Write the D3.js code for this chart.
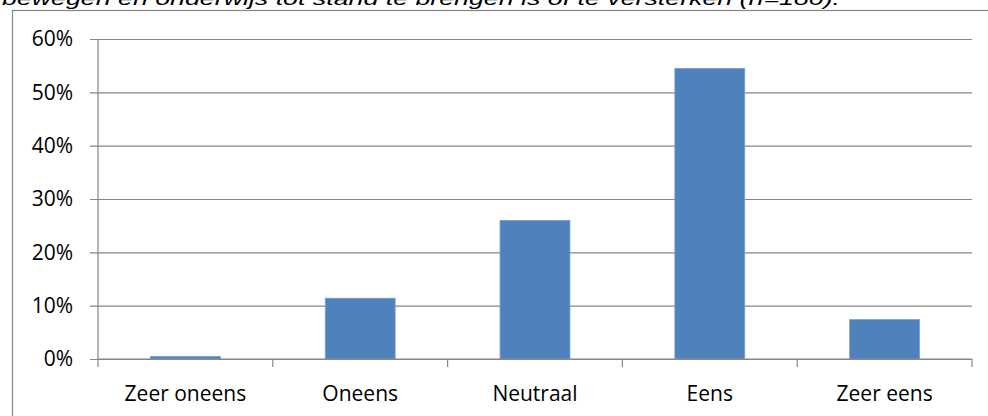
<!DOCTYPE html>
<html>
<head>
<meta charset="utf-8">
<script src="https://cdn.jsdelivr.net/npm/d3@7"></script>
<style>
  html, body { margin: 0; padding: 0; background: #fff; }
  svg { display: block; }
</style>
</head>
<body>
<svg id="chart" width="988" height="416"></svg>
<script>
// Antwoordverdeling (n=180)
const categories = ["Zeer oneens", "Oneens", "Neutraal", "Eens", "Zeer eens"];
const percentages = [0.5, 11.4, 26.0, 54.5, 7.4];
const yTicks = [0, 10, 20, 30, 40, 50, 60];
const titleText = "bewegen en onderwijs tot stand te brengen is of te versterken (n=180).";

const svg = d3.select("#chart");
const W = 988, H = 416;
const margin = { left: 98, right: 16, top: 39, bottom: 57 };
const labelFont = "'Open Sans', 'DejaVu Sans', sans-serif";
const labelSize = 21;

// Caption line above the chart frame (partly cut off at the top)
svg.append("text")
  .attr("x", 2)
  .attr("y", 5)
  .attr("font-family", "'Liberation Sans', Arial, sans-serif")
  .attr("font-style", "italic")
  .attr("font-size", 19)
  .attr("fill", "#000")
  .attr("textLength", 838)
  .attr("lengthAdjust", "spacingAndGlyphs")
  .text(titleText);

// Chart frame
svg.append("rect")
  .attr("x", 12.5)
  .attr("y", 10.5)
  .attr("width", 1000)
  .attr("height", 420)
  .attr("fill", "none")
  .attr("stroke", "#868686")
  .attr("stroke-width", 1.2);

const x = d3.scaleBand()
  .domain(categories)
  .range([margin.left, W - margin.right])
  .paddingInner(0.6)
  .paddingOuter(0.3);

const y = d3.scaleLinear()
  .domain([0, 60])
  .range([H - margin.bottom, margin.top]);

// Horizontal gridlines with left tick stubs
const yAxis = d3.axisLeft(y)
  .tickValues(yTicks)
  .tickFormat(d => d + "%")
  .tickSize(-(W - margin.right - margin.left))
  .tickPadding(25);

const gy = svg.append("g")
  .attr("transform", `translate(${margin.left},0)`)
  .call(yAxis);
gy.select(".domain").remove();
gy.selectAll(".tick line")
  .attr("x1", -8)
  .attr("stroke", "#868686")
  .attr("stroke-width", 1.2);
gy.selectAll(".tick text")
  .attr("font-family", labelFont)
  .attr("font-size", labelSize)
  .attr("fill", "#000");

// Vertical axis line
svg.append("line")
  .attr("x1", margin.left).attr("x2", margin.left)
  .attr("y1", y(60)).attr("y2", y(0))
  .attr("stroke", "#868686")
  .attr("stroke-width", 1.2);

// Bars
svg.append("g")
  .selectAll("rect")
  .data(categories)
  .join("rect")
  .attr("x", d => x(d))
  .attr("width", x.bandwidth())
  .attr("y", (d, i) => y(percentages[i]))
  .attr("height", (d, i) => y(0) - y(percentages[i]))
  .attr("fill", "#4f81bd")
  .attr("stroke", "#7ea0cf")
  .attr("stroke-width", 0.8);

// Category axis with tick marks between categories
const boundaries = d3.range(categories.length + 1).map(i => margin.left + i * (W - margin.right - margin.left) / categories.length);
const gx = svg.append("g");
gx.append("line")
  .attr("x1", margin.left).attr("x2", W - margin.right)
  .attr("y1", y(0)).attr("y2", y(0))
  .attr("stroke", "#868686")
  .attr("stroke-width", 1.2);
gx.selectAll("line.tk")
  .data(boundaries)
  .join("line")
  .attr("class", "tk")
  .attr("x1", d => d).attr("x2", d => d)
  .attr("y1", y(0)).attr("y2", y(0) + 8)
  .attr("stroke", "#868686")
  .attr("stroke-width", 1.2);
gx.selectAll("text")
  .data(categories)
  .join("text")
  .attr("x", d => x(d) + x.bandwidth() / 2)
  .attr("y", y(0) + 35)
  .attr("dy", "0.35em")
  .attr("text-anchor", "middle")
  .attr("font-family", labelFont)
  .attr("font-size", labelSize)
  .attr("fill", "#000")
  .text(d => d);
</script>
</body>
</html>
